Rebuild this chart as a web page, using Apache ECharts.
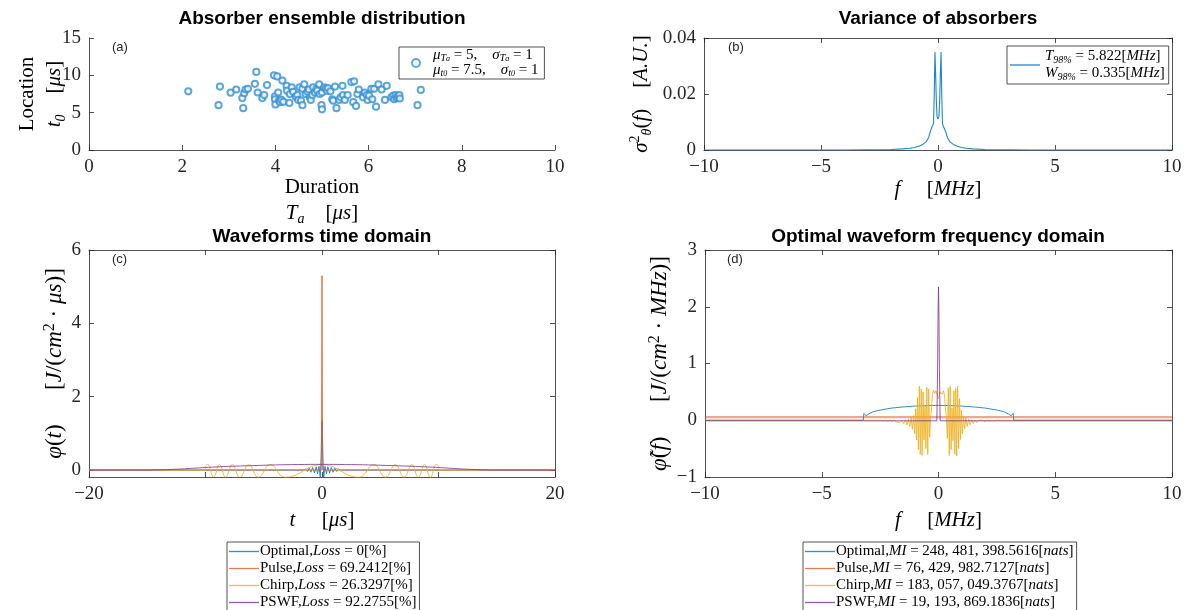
<!DOCTYPE html>
<html><head><meta charset="utf-8">
<script src="https://cdn.jsdelivr.net/npm/echarts@6/dist/echarts.min.js"></script>
<style>html,body{margin:0;padding:0;background:#fff}#c{width:1186px;height:610px}</style>
</head><body><div id="c"></div>
<script>
// ---------- DATA ----------
// (a) absorber ensemble: [duration Ta (us), location t0 (us)]
const absorberPts = [
 [2.13,7.86],[2.81,8.5],[2.78,6.0],[3.04,7.68],[3.16,8.1],[3.31,5.6],[3.29,6.95],[3.33,7.6],[3.36,8.1],[3.41,8.2],
 [3.56,8.86],[3.59,10.45],[3.62,7.7],[3.72,6.95],[3.76,7.36],[3.82,8.7],[3.97,10.0],[4.04,9.86],[3.99,7.2],[3.99,6.8],
 [4.0,6.1],[4.06,7.7],[4.08,6.6],[4.1,6.4],[4.13,6.7],[4.17,6.45],[4.15,9.3],[4.24,8.6],[4.25,7.95],[4.3,6.3],
 [4.31,7.5],[4.35,8.4],[4.38,7.8],[4.44,7.1],[4.47,7.36],[4.49,6.7],[4.52,8.4],[4.55,6.6],[4.58,6.0],[4.58,8.2],
 [4.62,8.8],[4.65,7.5],[4.69,7.8],[4.72,8.1],[4.74,7.05],[4.76,6.7],[4.79,7.36],[4.81,8.4],[4.85,7.7],[4.88,8.2],
 [4.9,7.95],[4.94,8.8],[4.95,7.5],[4.99,6.0],[5.0,5.45],[5.0,7.7],[5.05,8.4],[5.08,8.2],[5.11,7.95],[5.13,8.3],
 [5.18,7.86],[5.22,6.8],[5.24,6.6],[5.28,8.5],[5.31,5.6],[5.37,6.7],[5.4,7.05],[5.44,8.6],[5.45,7.36],[5.49,6.7],
 [5.55,7.36],[5.63,9.1],[5.67,6.4],[5.69,9.2],[5.73,5.9],[5.76,7.5],[5.79,8.1],[5.88,7.05],[5.92,7.7],[5.96,7.36],
 [5.98,6.7],[6.01,7.27],[6.06,8.2],[6.08,6.8],[6.12,8.2],[6.16,5.8],[6.21,8.8],[6.28,8.1],[6.35,6.7],[6.39,8.6],
 [6.49,7.05],[6.53,7.27],[6.55,6.8],[6.58,7.36],[6.6,6.95],[6.63,7.14],[6.66,7.36],[6.67,6.9],[7.05,6.0],[7.12,8.05]
];
// (b) variance of absorbers: [f (MHz), sigma^2]
const variancePts = [
 [-10,0],[-4,0],[-3,0.0001],[-2,0.0002],[-1.5,0.0004],[-1.2,0.0006],[-1,0.0009],[-0.8,0.0014],[-0.65,0.002],[-0.5,0.003],
 [-0.4,0.0045],[-0.33,0.0065],[-0.28,0.0078],[-0.23,0.0085],[-0.19,0.0095],[-0.16,0.02],[-0.13,0.035],[-0.1,0.027],[-0.07,0.017],[-0.04,0.012],
 [0,0.011],[0.04,0.012],[0.07,0.017],[0.1,0.027],[0.13,0.035],[0.16,0.02],[0.19,0.0095],[0.23,0.0085],[0.28,0.0078],[0.33,0.0065],
 [0.4,0.0045],[0.5,0.003],[0.65,0.002],[0.8,0.0014],[1,0.0009],[1.2,0.0006],[1.5,0.0004],[2,0.0002],[3,0.0001],[4,0],[10,0]
];
// (c) waveforms, time domain: [t (us), phi]
const optimalTime = [
 [-20,0],[-1.6,0],[-1.4,0.03],[-1.25,-0.04],[-1.1,0.05],[-0.95,-0.06],[-0.8,0.07],[-0.65,-0.08],[-0.5,0.09],[-0.38,-0.1],
 [-0.25,0.1],[-0.15,-0.2],[-0.08,0.3],[0,1.35],[0.08,0.3],[0.15,-0.2],[0.25,0.1],[0.38,-0.1],[0.5,0.09],[0.65,-0.08],
 [0.8,0.07],[0.95,-0.06],[1.1,0.05],[1.25,-0.04],[1.4,0.03],[1.6,0],[20,0]
];
const pulseTime = [[-20,0],[-0.06,0],[0,5.3],[0.06,0],[20,0]];
const chirpTime = [
 [-20,0],[-10.02,0],[-10,0.1],[-9.8,0.15],[-9.3,-0.2],[-8.8,0.15],[-8.27,-0.2],[-7.7,0.15],[-7.05,-0.2],[-6.3,0.15],
 [-5.45,-0.2],[-4.45,0.15],[-3.15,-0.2],[0,0.15],[3.15,-0.2],[4.45,0.15],[5.45,-0.2],[6.3,0.15],[7.05,-0.2],[7.7,0.15],
 [8.27,-0.2],[8.8,0.15],[9.3,-0.2],[9.8,0.15],[10,0.1],[10.02,0],[20,0]
];
const pswfTime = [
 [-20,0],[-15,0],[-14,0.005],[-13,0.015],[-12,0.03],[-11,0.05],[-10,0.07],[-9,0.085],[-8,0.1],[-6,0.12],[-4,0.14],[-2,0.15],
 [0,0.155],[2,0.15],[4,0.14],[6,0.12],[8,0.1],[9,0.085],[10,0.07],[11,0.05],[12,0.03],[13,0.015],[14,0.005],[15,0],[20,0]
];
// (d) waveforms, frequency domain: [f (MHz), phi~]
const optimalFreq = [
 [-10,0],[-3.22,0],[-3.2,0.12],[-3.1,0.08],[-3.0,0.11],[-2.8,0.15],[-2.5,0.18],[-2,0.215],[-1.5,0.235],[-1,0.25],[-0.5,0.258],
 [0,0.262],[0.5,0.258],[1,0.25],[1.5,0.235],[2,0.215],[2.5,0.18],[2.8,0.15],[3.0,0.11],[3.1,0.08],[3.2,0.12],[3.22,0],[10,0]
];
const pulseFreq = [[-10,0.055],[10,0.055]];
const chirpFreq = [
 [-10,0],[-2.5,0],[-2.4,-0.01],[-2.3,0],[-2.2,-0.015],[-2.1,0],[-2.0,-0.02],[-1.9,0],[-1.8,-0.03],[-1.72,0],
 [-1.64,-0.04],[-1.56,0],[-1.49,-0.06],[-1.42,0.01],[-1.35,-0.08],[-1.29,0.02],[-1.23,-0.11],[-1.17,0.04],[-1.12,-0.16],[-1.07,0.08],
 [-1.02,-0.24],[-0.98,0.2],[-0.94,-0.35],[-0.9,0.4],[-0.86,-0.52],[-0.82,0.6],[-0.78,-0.6],[-0.74,0.55],[-0.7,-0.62],[-0.66,0.5],
 [-0.62,-0.35],[-0.58,0.25],[-0.54,-0.5],[-0.5,0.58],[-0.46,-0.6],[-0.42,0.55],[-0.38,-0.3],[-0.34,0.05],[-0.3,0.2],[-0.26,0.45],
 [-0.21,0.53],[-0.16,0.47],[-0.11,0.52],[-0.06,0.5],[-0.03,0.42],[0,0.38],[0.03,0.43],[0.06,0.5],[0.11,0.53],[0.16,0.46],
 [0.21,0.52],[0.26,0.44],[0.3,0.18],[0.34,0.04],[0.38,-0.32],[0.42,0.57],[0.46,-0.62],[0.5,0.6],[0.54,-0.52],[0.58,0.22],
 [0.62,-0.36],[0.66,0.52],[0.7,-0.6],[0.74,0.56],[0.78,-0.63],[0.82,0.6],[0.86,-0.5],[0.9,0.38],[0.94,-0.34],[0.98,0.18],
 [1.02,-0.24],[1.07,0.07],[1.12,-0.15],[1.17,0.04],[1.23,-0.11],[1.29,0.02],[1.35,-0.08],[1.42,0.01],[1.49,-0.06],[1.56,0],
 [1.64,-0.04],[1.72,0],[1.8,-0.03],[1.9,0],[2.0,-0.02],[2.1,0],[2.2,-0.015],[2.3,0],[2.4,-0.01],[2.5,0],[10,0]
];
const pswfFreq = [[-10,-0.01],[-0.07,-0.01],[-0.04,0.9],[-0.015,2.0],[0,2.35],[0.015,2.0],[0.04,0.9],[0.07,-0.01],[10,-0.01]];

// tick values
const ticksCxLabels = [-20,0,20], ticksCx = [-20,-10,0,10,20], ticksCy = [0,2,4,6];

// legend labels (rich text)
const legendTextA = '{i|μ}{s|T}{ss|a}{r| = 5,    }{i|σ}{s|T}{ss|a}{r| = 1}\n{i|μ}{s|t}{ss|0}{r| = 7.5,    }{i|σ}{s|t}{ss|0}{r| = 1}';
const legendTextB = '{i|T}{s|98%}{r| = 5.822[}{i|MHz}{r|]}\n{i|W}{s|98%}{r| = 0.335[}{i|MHz}{r|]}';
const namesC = ['Optimal,Loss = 0[%]','Pulse,Loss = 69.2412[%]','Chirp,Loss = 26.3297[%]','PSWF,Loss = 92.2755[%]'];
const richC = ['{r|Optimal,}{i|Loss}{r| = 0[%]}','{r|Pulse,}{i|Loss}{r| = 69.2412[%]}','{r|Chirp,}{i|Loss}{r| = 26.3297[%]}','{r|PSWF,}{i|Loss}{r| = 92.2755[%]}'];
const namesD = ['Optimal,MI = 248,481,398.5616','Pulse,MI = 76,429,982.7127','Chirp,MI = 183,057,049.3767','PSWF,MI = 19,193,869.1836'];
const richD = ['{r|Optimal,}{i|MI}{r| = 248, 481, 398.5616[}{i|nats}{r|]}','{r|Pulse,}{i|MI}{r| = 76, 429, 982.7127[}{i|nats}{r|]}','{r|Chirp,}{i|MI}{r| = 183, 057, 049.3767[}{i|nats}{r|]}','{r|PSWF,}{i|MI}{r| = 19, 193, 869.1836[}{i|nats}{r|]}'];

// ---------- STYLE ----------
const SERIF = "'Liberation Serif', 'DejaVu Serif', serif";
const SANS = "'Liberation Sans', Arial, sans-serif";
const AX = '#262626';
const COL = {opt:'rgba(0,114,189,0.8)', pulse:'rgba(217,83,25,0.75)', chirp:'rgba(237,177,32,0.85)', pswf:'rgba(126,47,142,0.8)'};
const minus = v => String(v).replace('-', '\u2212');

function rich(fs){
  return {
    r:{fontFamily:SERIF, fontSize:fs, color:'#000'},
    i:{fontFamily:SERIF, fontSize:fs, fontStyle:'italic', color:'#000'},
    s:{fontFamily:SERIF, fontSize:Math.round(fs*0.68), fontStyle:'italic', color:'#000', verticalAlign:'bottom', lineHeight:Math.round(fs*0.6)},
    ss:{fontFamily:SERIF, fontSize:Math.round(fs*0.55), fontStyle:'italic', color:'#000', verticalAlign:'bottom', lineHeight:Math.round(fs*0.45)},
    sp:{fontFamily:SERIF, fontSize:Math.round(fs*0.68), color:'#000', verticalAlign:'top', lineHeight:Math.round(fs*0.6)}
  };
}

function mainAxis(grid, pos, min, max, opts){
  opts = opts || {};
  const a = {
    type:'value', gridIndex:grid, position:pos, min:min, max:max,
    axisLine:{show:true, onZero:false, lineStyle:{color:AX, width:0.8}},
    axisTick:{show:true, inside:true, length:5, lineStyle:{color:AX, width:0.8}},
    axisLabel:{show:true, color:AX, fontFamily:SERIF, fontSize:19, margin:8, formatter:minus},
    splitLine:{show:false}
  };
  if (opts.interval !== undefined) a.interval = opts.interval;
  if (opts.tickVals) a.axisTick.customValues = opts.tickVals;
  if (opts.labelVals) a.axisLabel.customValues = opts.labelVals;
  if (opts.noLabel) a.axisLabel.show = false;
  if (opts.name){
    const fs = opts.nameSize || 21;
    a.name = opts.name; a.nameLocation = 'middle'; a.nameGap = opts.nameGap;
    a.nameMoveOverlap = false;
    a.nameTextStyle = {fontFamily:SERIF, fontSize:fs, color:'#000', lineHeight:opts.nameLH||26, rich:rich(fs)};
    if (opts.rotate) a.nameRotate = opts.rotate;
  }
  return a;
}

const xAxes = [
  mainAxis(0,'bottom',0,10,{interval:2, name:'{r|Duration}\n{i|T}{s|a}{r|    [}{i|μs}{r|]}', nameGap:24, nameLH:26}),
  mainAxis(1,'bottom',-10,10,{interval:5, name:'{i|f}{r|     [}{i|MHz}{r|]}', nameGap:26}),
  mainAxis(1,'top',-10,10,{interval:5, noLabel:true}),
  mainAxis(2,'bottom',-20,20,{interval:10, tickVals:ticksCx, labelVals:ticksCxLabels, name:'{i|t}{r|     [}{i|μs}{r|]}', nameGap:30}),
  mainAxis(2,'top',-20,20,{interval:10, tickVals:ticksCx, noLabel:true}),
  mainAxis(3,'bottom',-10,10,{interval:5, name:'{i|f}{r|     [}{i|MHz}{r|]}', nameGap:30}),
  mainAxis(3,'top',-10,10,{interval:5, noLabel:true})
];
const yAxes = [
  mainAxis(0,'left',0,15,{interval:5, name:'{r|Location}\n{i|t}{s|0}{r|    [}{i|μs}{r|]}', nameGap:21, rotate:90, nameLH:27}),
  mainAxis(1,'left',0,0.04,{interval:0.02, name:'{i|σ}{sp|2}{s|θ}{r|(}{i|f}{r|)    [}{i|A.U.}{r|]}', nameGap:50, rotate:90}),
  mainAxis(1,'right',0,0.04,{interval:0.02, noLabel:true}),
  mainAxis(2,'left',-0.19,6,{tickVals:ticksCy, labelVals:ticksCy, name:'{i|φ}{r|(}{i|t}{r|)      [}{i|J}{r|/(}{i|cm}{sp|2}{r| · }{i|μs}{r|)]}', nameGap:21, rotate:90, nameSize:23}),
  mainAxis(2,'right',-0.19,6,{tickVals:ticksCy, noLabel:true}),
  mainAxis(3,'left',-1,3,{interval:1, name:'{i|φ̃}{r|(}{i|f}{r|)      [}{i|J}{r|/(}{i|cm}{sp|2}{r| · }{i|MHz}{r|)]}', nameGap:32, rotate:90, nameSize:23}),
  mainAxis(3,'right',-1,3,{interval:1, noLabel:true})
];

function lineS(name, data, xi, yi, color, extra){
  return Object.assign({type:'line', name:name, data:data, xAxisIndex:xi, yAxisIndex:yi, symbol:'none', showSymbol:false,
    lineStyle:{color:color, width:1}, itemStyle:{color:color}, clip:true, z:2}, extra||{});
}

const series = [
  {type:'scatter', name:'A', data:absorberPts, xAxisIndex:0, yAxisIndex:0, symbol:'emptyCircle', symbolSize:6.2,
   itemStyle:{color:'#3590d3', borderColor:'#3590d3', borderWidth:0.75}},
  lineS('B', variancePts, 1, 1, '#1f86cc', {lineStyle:{color:'#1f86cc', width:1.1}}),
  lineS(namesC[0], optimalTime, 3, 3, COL.opt),
  lineS(namesC[1], pulseTime, 3, 3, COL.pulse),
  lineS(namesC[2], chirpTime, 3, 3, COL.chirp, {smooth:0.45}),
  lineS(namesC[3], pswfTime, 3, 3, COL.pswf, {smooth:0.4}),
  lineS(namesD[0], optimalFreq, 5, 5, COL.opt),
  lineS(namesD[1], pulseFreq, 5, 5, COL.pulse, {lineStyle:{color:'rgba(217,83,25,0.5)', width:2.2}}),
  lineS(namesD[2], chirpFreq, 5, 5, COL.chirp),
  lineS(namesD[3], pswfFreq, 5, 5, COL.pswf)
];

const legendBase = {selectedMode:false, borderColor:AX, borderWidth:0.8, backgroundColor:'#fff', orient:'vertical', itemGap:0};
const legends = [
  Object.assign({}, legendBase, {data:['A'], left:399, top:47, icon:'emptyCircle', itemWidth:8, itemHeight:8, padding:[1,6,1,12],
    formatter:()=>legendTextA, textStyle:{fontFamily:SERIF, fontSize:15, lineHeight:15, color:'#000', padding:[0,0,0,8], rich:rich(15)}}),
  Object.assign({}, legendBase, {data:['B'], left:1007, top:46, icon:'rect', itemWidth:30, itemHeight:1.3, padding:[2,4,2,3],
    formatter:()=>legendTextB, textStyle:{fontFamily:SERIF, fontSize:15, lineHeight:17, color:'#000', rich:rich(15)}}),
  Object.assign({}, legendBase, {data:namesC, left:227, top:542, height:90, icon:'rect', itemWidth:30, itemHeight:1.3, padding:[1,3,6,2],
    formatter:n=>richC[namesC.indexOf(n)], textStyle:{fontFamily:SERIF, fontSize:15, lineHeight:17, color:'#000', padding:[0,0,0,-4], rich:rich(15)}}),
  Object.assign({}, legendBase, {data:namesD, left:803, top:542, height:90, icon:'rect', itemWidth:30, itemHeight:1.3, padding:[1,3,6,2],
    formatter:n=>richD[namesD.indexOf(n)], textStyle:{fontFamily:SERIF, fontSize:15, lineHeight:17, color:'#000', padding:[0,0,0,-4], rich:rich(15)}})
];

const titleStyle = {fontFamily:SANS, fontWeight:'bold', fontSize:19, color:'#000'};
const titles = [
  {text:'Absorber ensemble distribution', left:322, top:9, textAlign:'center', textStyle:titleStyle, padding:0},
  {text:'Variance of absorbers', left:938, top:9, textAlign:'center', textStyle:titleStyle, padding:0},
  {text:'Waveforms time domain', left:322, top:227, textAlign:'center', textStyle:titleStyle, padding:0},
  {text:'Optimal waveform frequency domain', left:938, top:227, textAlign:'center', textStyle:titleStyle, padding:0}
];

const panelLabel = (t,x,y) => ({type:'text', left:x, top:y, z:10, style:{text:t, font:'13px '+SANS, fill:'#262626'}});

const option = {
  animation:false,
  backgroundColor:'#fff',
  title:titles,
  grid:[
    {left:89, top:38, width:466, height:112},
    {left:704, top:38, width:468, height:112},
    {left:89, top:250, width:466, height:227},
    {left:705, top:250, width:467, height:227}
  ],
  xAxis:xAxes, yAxis:yAxes,
  legend:legends,
  series:series,
  graphic:[panelLabel('(a)',112,41), panelLabel('(b)',728,41), panelLabel('(c)',112,253), panelLabel('(d)',727,253)]
};
const chart = echarts.init(document.getElementById('c'), null, {renderer:'canvas'});
chart.setOption(option);
</script></body></html>
